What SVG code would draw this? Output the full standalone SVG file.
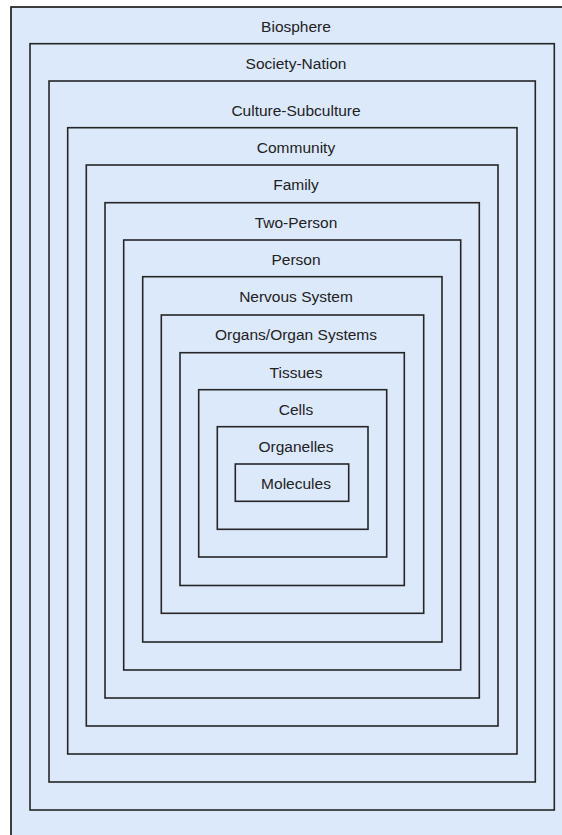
<svg xmlns="http://www.w3.org/2000/svg" width="562" height="835" viewBox="0 0 562 835">
  <style>
    .box { fill: #dce9fb; stroke: #262626; stroke-width: 1.6; }
    .outer { fill: #dce9fb; stroke: #111; stroke-width: 1.6; }
    .label { font-family: "Liberation Sans", Arial, Helvetica, sans-serif; font-size: 15.5px; fill: #222; text-anchor: middle; }
  </style>
  <rect width="562" height="835" fill="#ffffff"/>
  <!-- nested levels, outermost first -->
  <g id="biosphere">
    <rect class="outer" x="11" y="7" width="560" height="840"/>
    <text class="label" x="296" y="32">Biosphere</text>
  </g>
  <g id="society-nation">
    <rect class="box" x="30" y="43.7" width="524.3" height="766.3"/>
    <text class="label" x="296" y="69">Society-Nation</text>
  </g>
  <g id="culture-subculture">
    <rect class="box" x="49" y="81" width="486.3" height="701"/>
    <text class="label" x="296" y="115.5">Culture-Subculture</text>
  </g>
  <g id="community">
    <rect class="box" x="67.7" y="127.7" width="449.3" height="626.3"/>
    <text class="label" x="296" y="153">Community</text>
  </g>
  <g id="family">
    <rect class="box" x="86.3" y="165" width="411.7" height="561"/>
    <text class="label" x="296" y="190">Family</text>
  </g>
  <g id="two-person">
    <rect class="box" x="105" y="202.7" width="374.3" height="495.3"/>
    <text class="label" x="296" y="227.5">Two-Person</text>
  </g>
  <g id="person">
    <rect class="box" x="123.7" y="240" width="337" height="430"/>
    <text class="label" x="296" y="265">Person</text>
  </g>
  <g id="nervous-system">
    <rect class="box" x="142.7" y="276.7" width="299.3" height="365.3"/>
    <text class="label" x="296" y="302">Nervous System</text>
  </g>
  <g id="organs">
    <rect class="box" x="161.3" y="315" width="262.4" height="298.3"/>
    <text class="label" x="296" y="340">Organs/Organ Systems</text>
  </g>
  <g id="tissues">
    <rect class="box" x="180" y="352.7" width="224.3" height="232.8"/>
    <text class="label" x="296" y="377.5">Tissues</text>
  </g>
  <g id="cells">
    <rect class="box" x="198.7" y="389.7" width="188" height="167.3"/>
    <text class="label" x="296" y="414.5">Cells</text>
  </g>
  <g id="organelles">
    <rect class="box" x="217.3" y="426.7" width="150.7" height="102.6"/>
    <text class="label" x="296" y="452">Organelles</text>
  </g>
  <g id="molecules">
    <rect class="box" x="235.3" y="464" width="113.4" height="37.3"/>
    <text class="label" x="296" y="488.5">Molecules</text>
  </g>
  <g id="connectors"/>
</svg>
